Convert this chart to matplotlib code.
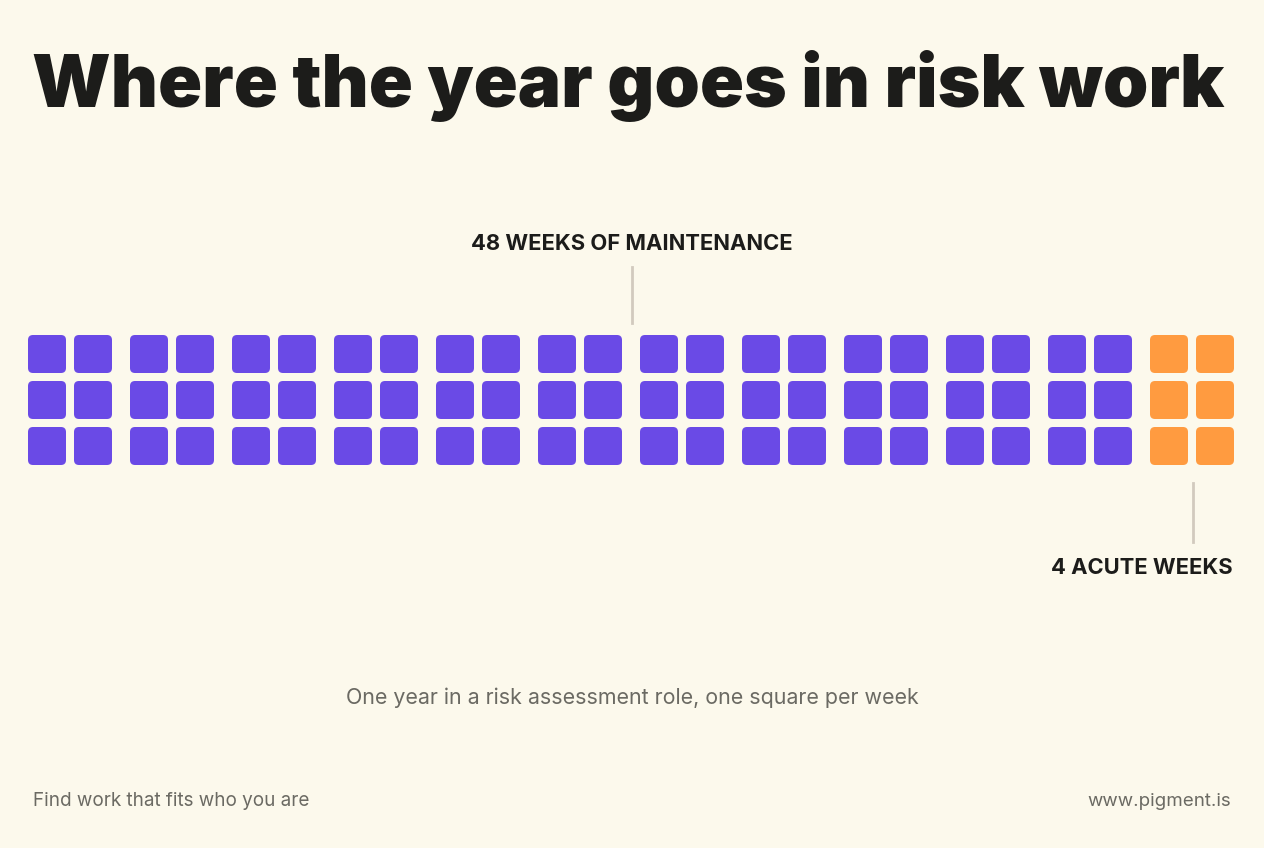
import matplotlib.pyplot as plt
from matplotlib.patches import FancyBboxPatch

# data: squares drawn per segment (one square per week)
segments = ["maintenance", "acute"]
square_counts = [66, 6]
segment_colors = ["#6a4ae6", "#ff9b40"]
labels = ["48 WEEKS OF MAINTENANCE", "4 ACUTE WEEKS"]

title = "Where the year goes in risk work"
subtitle = "One year in a risk assessment role, one square per week"
footer_left = "Find work that fits who you are"
footer_right = "www.pigment.is"

bg = "#fcf9ec"
plt.rcParams['font.family'] = ['Inter', 'DejaVu Sans']

fig = plt.figure(figsize=(12.64, 8.48), dpi=100, facecolor=bg)
ax = fig.add_axes([0, 0, 1, 1])
ax.set_xlim(0, 1264)
ax.set_ylim(848, 0)
ax.axis('off')
ax.set_facecolor(bg)

# grid geometry (pixels)
size = 38
gap = 8
group_pitch = 102
x0, y0 = 28, 335

i = 0
for count, color in zip(square_counts, segment_colors):
    for _ in range(count):
        g, k = divmod(i, 6)
        row, col = divmod(k, 2)
        x = x0 + g * group_pitch + col * (size + gap)
        y = y0 + row * (size + gap)
        ax.add_patch(FancyBboxPatch((x, y), size, size,
                                    boxstyle="round,pad=0,rounding_size=5",
                                    fc=color, ec='none'))
        i += 1

ax.text(628, 86, title, ha='center', va='center', fontsize=52.4,
        fontweight='black', color='#1c1c1a')

# annotations
ax.plot([632, 632], [267, 323], color='#d2cabe', lw=2)
ax.text(632, 244, labels[0], ha='center', va='center', fontsize=15.8,
        fontweight='bold', color='#1c1c1a')
ax.plot([1193, 1193], [483, 542], color='#d2cabe', lw=2)
ax.text(1233, 568, labels[1], ha='right', va='center', fontsize=15.8,
        fontweight='bold', color='#1c1c1a')

ax.text(632, 698, subtitle, ha='center', va='center', fontsize=15.4,
        color='#6b6a63')
ax.text(33, 801, footer_left, ha='left', va='center', fontsize=13.6,
        color='#6b6a63')
ax.text(1231, 801, footer_right, ha='right', va='center', fontsize=13.5,
        color='#6b6a63')

fig.savefig('out.png', dpi=100, facecolor=bg)
